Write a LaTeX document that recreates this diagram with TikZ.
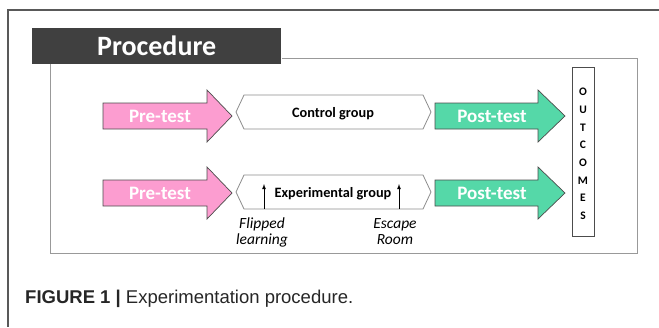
\documentclass[tikz,border=0pt]{standalone}
\usepackage{fontspec}
\setmainfont{Carlito}
\newfontfamily\capfont{Liberation Sans}
\begin{document}
\begin{tikzpicture}[x=1pt,y=-1pt,
  framea/.style={draw=black!65,line width=1.3pt},
  frameb/.style={draw=black!40,line width=0.9pt},
  pinkarrow/.style={draw=black!70,line width=0.7pt,fill=pinkfill},
  greenarrow/.style={draw=black!70,line width=0.7pt,fill=greenfill},
  hexa/.style={draw=black!45,line width=0.8pt,fill=white},
  arrowtext/.style={text=white,font=\bfseries\fontsize{19}{21}\selectfont,inner sep=0pt,anchor=base},
  grouptext/.style={text=black,font=\bfseries\fontsize{14.3}{16}\selectfont,inner sep=0pt,anchor=base},
  handtext/.style={font=\itshape\fontsize{15.5}{17}\selectfont,align=center,inner sep=0pt},
  uparrow/.style={-latex,line width=0.8pt,black},
]
\definecolor{pinkfill}{HTML}{FC9DD0}
\definecolor{greenfill}{HTML}{55D8A8}
\definecolor{darkbox}{HTML}{404040}
\useasboundingbox (0,0) rectangle (659,327);
% outer frame
\draw[framea] (659,10) -- (8,10) -- (8,327);
% inner frame
\draw[frameb] (282,58) -- (637,58) -- (637,253) -- (50,253) -- (50,64);
% title box
\node[fill=darkbox,minimum width=249pt,minimum height=36pt,inner sep=0pt,anchor=north west,
      text=white,font=\bfseries\fontsize{28}{30}\selectfont] (title) at (32,28) {Procedure};
% pre-test arrows
\draw[pinkarrow] (103,103) -- (207,103) -- (207,90) -- (232,116) -- (207,142) -- (207,129) -- (103,129) -- cycle;
\node[arrowtext] (pre1) at (160,122.5) {Pre-test};
\draw[pinkarrow] (103,180) -- (207,180) -- (207,167) -- (232,193) -- (207,219) -- (207,206) -- (103,206) -- cycle;
\node[arrowtext] (pre2) at (160,199.5) {Pre-test};
% hexagons
\draw[hexa] (236,112) -- (244,95) -- (423,95) -- (431,112) -- (423,129) -- (244,129) -- cycle;
\node[grouptext] (ctrl) at (333,117) {Control group};
\draw[hexa] (236,192) -- (244,175) -- (423,175) -- (431,192) -- (423,209) -- (244,209) -- cycle;
\node[grouptext] (exp) at (333,197) {Experimental group};
% small arrows
\coordinate (fl0) at (264,209);
\coordinate (fl1) at (264,184);
\coordinate (es0) at (399,209);
\coordinate (es1) at (399,184);
\draw[uparrow] (fl0) -- (fl1);
\draw[uparrow] (es0) -- (es1);
\node[handtext] (flip) at (262,232) {Flipped\\[-1pt]learning};
\node[handtext] (esc) at (395,232) {Escape\\[-1pt]Room};
% post-test arrows
\draw[greenarrow] (435,103) -- (538,103) -- (538,90) -- (565,116) -- (538,142) -- (538,129) -- (435,129) -- cycle;
\node[arrowtext] (post1) at (492,122.5) {Post-test};
\draw[greenarrow] (435,180) -- (538,180) -- (538,167) -- (565,193) -- (538,219) -- (538,206) -- (435,206) -- cycle;
\node[arrowtext] (post2) at (492,199.5) {Post-test};
% outcomes
\node[draw=black!70,line width=0.8pt,minimum width=22pt,minimum height=169pt,inner sep=0pt] (out) at (583,151.5) {};
\node[font=\bfseries\fontsize{11.5}{17.7}\selectfont,align=center,inner sep=0pt] (outtxt) at (583,154) {O\\U\\T\\C\\O\\M\\E\\S};
% caption
\node[anchor=base west,inner sep=0pt,text=black!85,font=\capfont\fontsize{18.5}{22}\selectfont] (cap) at (25,303)
  {\textbf{FIGURE 1 |} Experimentation procedure.};
\end{tikzpicture}
\end{document}
